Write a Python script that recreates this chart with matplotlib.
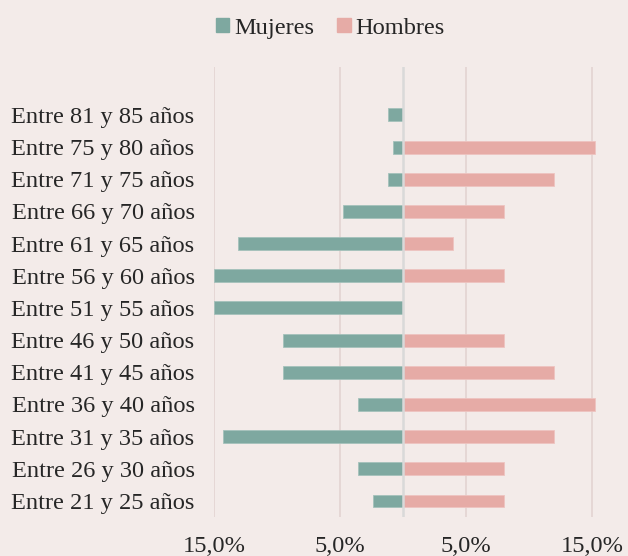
import matplotlib.pyplot as plt
from matplotlib.patches import Patch

# Datos (de abajo hacia arriba)
categorias = ["Entre 21 y 25 años", "Entre 26 y 30 años", "Entre 31 y 35 años",
              "Entre 36 y 40 años", "Entre 41 y 45 años", "Entre 46 y 50 años",
              "Entre 51 y 55 años", "Entre 56 y 60 años", "Entre 61 y 65 años",
              "Entre 66 y 70 años", "Entre 71 y 75 años", "Entre 75 y 80 años",
              "Entre 81 y 85 años"]
mujeres = [2.4, 3.6, 14.3, 3.6, 9.5, 9.5, 15.0, 15.0, 13.1, 4.8, 1.2, 0.8, 1.2]
hombres = [8.0, 8.0, 12.0, 15.2, 12.0, 8.0, 0.0, 8.0, 4.0, 8.0, 12.0, 15.2, 0.0]

ticks_x = [-15, -5, 5, 15]
etiquetas_x = ["15,0%", "5,0%", "5,0%", "15,0%"]

fondo = "#f3ebe9"
verde = "#7ea8a0"
rosa = "#e6aba6"
texto = "#262626"

plt.rcParams['font.family'] = ['Liberation Serif', 'DejaVu Serif']

fig = plt.figure(figsize=(6.28, 5.56), dpi=100, facecolor=fondo)
ax = fig.add_axes([0.3408, 0.0701, 0.612, 0.81])
ax.set_facecolor(fondo)

y = list(range(len(categorias)))
neg_mujeres = [-v for v in mujeres]

# Lineas de la grilla
for t in ticks_x:
    ax.axvline(t, color="#e5d7d5", linewidth=1.4, zorder=0)

ax.barh(y, neg_mujeres, height=0.4, color=verde, edgecolor="#a4c1bb", linewidth=0.6, zorder=2)
ax.barh(y, hombres, height=0.4, color=rosa, edgecolor="#eec4c0", linewidth=0.6, zorder=2)

# Eje vertical en el cero
ax.axvline(0, color="#d9d9d9", linewidth=1.8, zorder=3)

ax.set_xlim(-15, 15.5)
ax.set_ylim(-0.5, 13.5)

ax.set_yticks(y)
ax.set_yticklabels(categorias, fontsize=17.6, color=texto)
ax.set_xticks(ticks_x)
ax.set_xticklabels(etiquetas_x, fontsize=17.6, color=texto)
ax.tick_params(axis='both', length=0)
ax.tick_params(axis='y', pad=14)
ax.tick_params(axis='x', pad=14)

for s in ax.spines.values():
    s.set_visible(False)

handles = [Patch(facecolor=verde, edgecolor=verde, label="Mujeres"),
           Patch(facecolor=rosa, edgecolor=rosa, label="Hombres")]
fig.legend(handles=handles, loc='upper center', bbox_to_anchor=(0.526, 1.008), ncol=2,
           frameon=False, fontsize=17.6, handlelength=0.55, handleheight=0.55,
           handletextpad=0.2, columnspacing=0.95, labelcolor=texto)

fig.savefig("out.png", dpi=100, facecolor=fondo)
